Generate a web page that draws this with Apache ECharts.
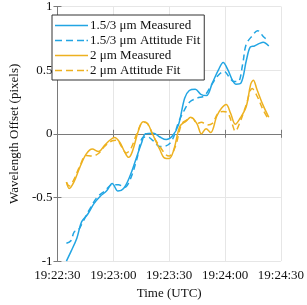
<!DOCTYPE html>
<html><head><meta charset="utf-8">
<script src="https://cdn.jsdelivr.net/npm/echarts@6/dist/echarts.min.js"></script>
<style>html,body{margin:0;padding:0;background:#fff}#c{width:307px;height:305px}</style>
</head><body><div id="c"></div>
<script>
// seconds after 19:22:30 UTC
var blueMeasT = [4.8,7.4,10.4,13.0,16.3,19.5,23.0,26.3,29.4,32.5,35.5,39.0,42.6,45.2,47.3,51.5,55.0,58.4,61.6,65.0,68.3,70.8,74.0,77.0,80.0,83.2,86.4,89.0,91.6,94.0,95.8,98.6,101.5,103.5,105.8,108.5,110.5,113.5];
var blueMeasV = [-1.0,-0.92,-0.82,-0.69,-0.63,-0.55,-0.49,-0.45,-0.39,-0.45,-0.43,-0.33,-0.18,-0.07,0.0,0.005,-0.025,-0.045,-0.02,0.07,0.28,0.34,0.35,0.31,0.30,0.40,0.50,0.56,0.50,0.42,0.39,0.40,0.58,0.68,0.69,0.71,0.72,0.69];
var blueFitT = [4.8,7.2,9.0,11.0,13.7,17.0,21.2,25.3,29.4,32.7,36.0,39.3,42.6,45.8,48.4,51.0,55.0,58.3,61.6,65.0,68.3,71.0,75.0,79.0,83.0,86.4,89.5,92.5,94.7,97.0,99.5,101.3,104.6,107.5,110.8,113.5];
var blueFitV = [-0.86,-0.84,-0.77,-0.76,-0.69,-0.60,-0.50,-0.45,-0.40,-0.40,-0.42,-0.35,-0.20,-0.03,-0.025,-0.05,-0.10,-0.095,-0.05,0.09,0.19,0.25,0.28,0.30,0.39,0.46,0.49,0.44,0.41,0.41,0.55,0.70,0.77,0.81,0.76,0.73];
var orMeasT = [4.8,6.3,8.8,12.1,15.4,18.7,22.0,25.3,28.6,30.6,33.6,36.0,38.2,40.2,43.5,46.0,48.4,51.0,55.0,57.5,60.0,62.5,65.8,69.1,71.6,74.9,77.3,79.8,82.3,85.6,88.1,90.6,93.0,95.5,98.0,101.3,103.8,105.2,107.1,110.4,113.5];
var orMeasV = [-0.38,-0.43,-0.38,-0.26,-0.16,-0.12,-0.14,-0.09,-0.045,-0.03,-0.07,-0.14,-0.185,-0.14,0.025,0.095,0.08,0.0,-0.125,-0.19,-0.195,-0.125,0.06,0.10,0.13,0.08,0.0,0.04,0.01,0.14,0.20,0.23,0.16,0.075,0.12,0.21,0.39,0.42,0.35,0.225,0.13];
var orFitT = [4.8,6.3,8.8,12.1,15.4,18.7,22.0,25.3,29.4,31.9,34.4,36.9,39.3,42.6,46.0,48.4,51.7,55.0,58.3,60.0,63.3,66.6,69.1,72.4,74.9,77.3,80.6,83.1,86.4,88.9,91.4,93.9,95.5,98.0,101.3,104.6,107.1,110.4,113.5];
var orFitV = [-0.38,-0.41,-0.36,-0.25,-0.17,-0.175,-0.155,-0.10,-0.055,-0.05,-0.10,-0.15,-0.12,0.0,0.09,0.08,-0.025,-0.10,-0.165,-0.175,-0.10,0.075,0.105,0.125,0.08,0.09,0.07,0.08,0.165,0.175,0.165,0.075,0.02,0.09,0.225,0.355,0.30,0.19,0.11];
var xTickLabels = ['19:22:30','19:23:00','19:23:30','19:24:00','19:24:30'];
var yTickLabels = {'-1':'-1','-0.5':'-0.5','0':'0','0.5':'0.5','1':'1'};
var names = ['1.5/3 \u03bcm Measured','1.5/3 \u03bcm Attitude Fit','2 \u03bcm Measured','2 \u03bcm Attitude Fit'];

function pairs(t, v){ return t.map(function(x,i){return [x, v[i]];}); }
var BLUE = '#22a5e3', ORANGE = '#edb120';
var FONT = 'Liberation Serif';
var axisCol = '#7a7a7a';
var SOLID_ICON = 'path://M0,0h33v1.5h-33z';
var DASH_ICON = 'path://M0,0h7v1.5h-7zM11,0h7v1.5h-7zM22,0h7v1.5h-7zM31.5,0h1.5v1.5h-1.5z';
function mk(name, t, v, color, dashed){
  return {name:name, type:'line', data:pairs(t,v), smooth:0.35, symbol:'none', showSymbol:false,
    lineStyle:{color:color, width:1.5, type: dashed ? [6,4] : 'solid'}, itemStyle:{color:color}};
}
var chart = echarts.init(document.getElementById('c'), null, {renderer:'canvas'});
chart.setOption({
  animation:false,
  backgroundColor:'#fff',
  grid:{left:42, right:23, top:5, bottom:38, containLabel:false},
  legend:{orient:'vertical', left:52, top:15, itemWidth:33, itemHeight:14, itemGap:2,
    padding:[4,4,3,3], backgroundColor:'#fff', borderColor:'#333', borderWidth:1, borderRadius:0,
    textStyle:{fontFamily:FONT, fontSize:13, color:'#111', padding:[0,0,0,-3]},
    data:[{name:names[0], icon:SOLID_ICON},{name:names[1], icon:DASH_ICON},
          {name:names[2], icon:SOLID_ICON},{name:names[3], icon:DASH_ICON}]},
  xAxis:[{type:'value', min:0, max:120, interval:30, position:'bottom',
    name:'Time (UTC)', nameLocation:'middle', nameGap:24,
    nameTextStyle:{fontFamily:FONT, fontSize:13, color:'#111'},
    axisLine:{show:true, lineStyle:{color:axisCol}},
    axisTick:{show:true, inside:true, length:4, lineStyle:{color:axisCol}},
    axisLabel:{fontFamily:FONT, fontSize:13, color:'#111', margin:8,
      formatter:function(v){return xTickLabels[Math.round(v/30)];}},
    splitLine:{show:true, lineStyle:{color:'#e6e6e6'}}},
   {type:'value', min:0, max:120, interval:30, position:'top',
    axisLine:{show:true, lineStyle:{color:axisCol}},
    axisTick:{show:true, inside:true, length:4, lineStyle:{color:axisCol}},
    axisLabel:{show:false}, splitLine:{show:false}}],
  yAxis:[{type:'value', min:-1, max:1, interval:0.5,
    name:'Wavelength Offset (pixels)', nameLocation:'middle', nameGap:27, nameRotate:90,
    nameTextStyle:{fontFamily:FONT, fontSize:13, color:'#111'},
    axisLine:{show:true, lineStyle:{color:axisCol}},
    axisTick:{show:true, inside:true, length:4, lineStyle:{color:axisCol}},
    axisLabel:{fontFamily:FONT, fontSize:13, color:'#111', margin:5,
      formatter:function(v){return yTickLabels[String(v)] !== undefined ? yTickLabels[String(v)] : String(v);}},
    splitLine:{show:true, lineStyle:{color:'#e6e6e6'}}},
   {type:'value', min:-1, max:1, interval:0.5, position:'right',
    axisLine:{show:true, lineStyle:{color:axisCol}},
    axisTick:{show:true, inside:true, length:4, lineStyle:{color:axisCol}},
    axisLabel:{show:false}, splitLine:{show:false}}],
  series:[
    mk(names[0], blueMeasT, blueMeasV, BLUE, false),
    mk(names[1], blueFitT, blueFitV, BLUE, true),
    mk(names[2], orMeasT, orMeasV, ORANGE, false),
    mk(names[3], orFitT, orFitV, ORANGE, true)
  ]
});
</script></body></html>
